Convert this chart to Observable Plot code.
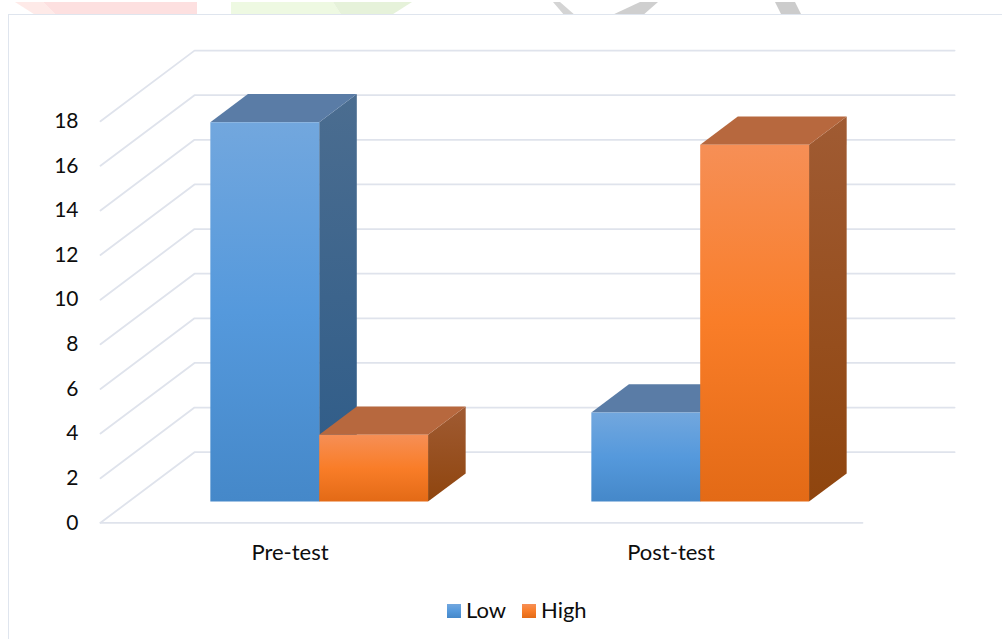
<!DOCTYPE html>
<html>
<head>
<meta charset="utf-8">
<script src="https://cdn.jsdelivr.net/npm/d3@7"></script>
<script src="https://cdn.jsdelivr.net/npm/@observablehq/plot@0.6"></script>
<style>
  html, body { margin: 0; padding: 0; background: #fff; overflow: hidden; }
  body { width: 1002px; height: 639px; position: relative; font-family: Lato, "Open Sans", sans-serif; color: #0d0d0d; }
  #strip { position: absolute; left: 0; top: 0; width: 1002px; height: 14px; overflow: hidden; }
  #frame { position: absolute; left: 7.5px; top: 13.5px; width: 1100px; height: 700px; border: 1.5px solid #dfe5ee; box-sizing: border-box; pointer-events: none; }
  #chart { position: absolute; left: 0; top: 0; }
  #legend { position: absolute; left: 0; top: 595px; width: 1002px; height: 32px; font-size: 22px; }
  #legend span { position: absolute; top: 2px; line-height: 26px; }
  #legend i { position: absolute; top: 9px; width: 14px; height: 14px; }
</style>
</head>
<body>
<div id="strip">
  <svg width="1002" height="14">
    <polygon points="15,0 43,0 57,14 37,14" fill="#feeae8"/>
    <polygon points="43,0 197,0 197,14 57,14" fill="#fde0e0"/>
    <polygon points="231,0 333,0 342,14 231,14" fill="#eef9e2"/>
    <polygon points="333,0 412,0 390,14 342,14" fill="#e6f2da"/>
    <polygon points="553,0 560,0 576,14 565,14" fill="#d4d4d4"/>
    <polygon points="640,0 658,0 642,14 610,14" fill="#cfcfcf"/>
    <polygon points="775,0 795,0 802,14 782,14" fill="#cccccc"/>
  </svg>
</div>
<div id="frame"></div>
<div id="chart"></div>
<div id="legend"></div>
<script>
// Counts of learners at each level, before and after the test period
const categories = ["Pre-test", "Post-test"];
const seriesNames = ["Low", "High"];
const lowValues = [17, 4];
const highValues = [3, 16];
const yTicks = [0, 2, 4, 6, 8, 10, 12, 14, 16, 18];

// Per-series face colours
const frontStops = {
  Low: ["#72a7de", "#5599dc", "#4588c9"],
  High: ["#f68f56", "#f97d28", "#e36a16"]
};
const sideStops = {
  Low: ["#4b6d90", "#2d5b88"],
  High: ["#a05b33", "#8f450e"]
};
const topFill = { Low: "#5a7ca6", High: "#b7683e" };

// Oblique projection: a point (u along the category axis, v up the value axis,
// d through the depth of the box) expressed in data units, so that the marks
// still go through the x and y scales.
const depthX = 94 / 381;
const depthY = 70.6 / 22.31;
const project = (u, v, d) => ({ x: u + d * depthX, y: v + d * depthY });

// Each category spans one x unit; bars fill it with a 150% gap
const barWidth = 1 / 3.5;
const barDepthStart = 0.3;
const barDepthEnd = 0.7;
const wallEnd = 1.995;

const bars = [];
categories.forEach((category, c) => {
  seriesNames.forEach((series, s) => {
    const value = (s === 0 ? lowValues : highValues)[c];
    const u0 = c + 0.5 - barWidth + s * barWidth;
    bars.push({ category, series, value, u0, u1: u0 + barWidth, key: `${c}-${s}` });
  });
});

const face = (name, corners, bar) =>
  corners.map(([u, v, d]) => ({ ...project(u, v, d), z: `${bar.key}-${name}` }));

const sidePoints = [], topPoints = [], frontPoints = [];
bars.forEach((b) => {
  const [d0, d1] = [barDepthStart, barDepthEnd];
  sidePoints.push(...face("side", [[b.u1, 0, d0], [b.u1, 0, d1], [b.u1, b.value, d1], [b.u1, b.value, d0]], b));
  topPoints.push(...face("top", [[b.u0, b.value, d0], [b.u1, b.value, d0], [b.u1, b.value, d1], [b.u0, b.value, d1]], b));
  frontPoints.push(...face("front", [[b.u0, 0, d0], [b.u1, 0, d0], [b.u1, b.value, d0], [b.u0, b.value, d0]], b));
});

// Floor edge and back-wall gridlines, one polyline per tick
const gridPoints = yTicks.flatMap((t) => [
  { ...project(0, t, 0), t },
  { ...project(0, t, 1), t },
  ...(t === 0 ? [{ ...project(2, t, 0), t: "floor" }, { ...project(0, t, 0), t: "floor" }] : []),
  { ...project(wallEnd, t, 1), t }
]);

// Painter's order per bar: side, top, then front, series by series
const barMarks = bars.flatMap((b) => {
  const byFace = (pts, name) => pts.filter((p) => p.z === `${b.key}-${name}`);
  return [
    Plot.line(byFace(sidePoints, "side"), { x: "x", y: "y", z: "z", curve: "linear-closed", fill: `url(#side${b.series})`, stroke: null }),
    Plot.line(byFace(topPoints, "top"), { x: "x", y: "y", z: "z", curve: "linear-closed", fill: topFill[b.series], stroke: null }),
    Plot.line(byFace(frontPoints, "front"), { x: "x", y: "y", z: "z", curve: "linear-closed", fill: `url(#front${b.series})`, stroke: null })
  ];
});

const chart = Plot.plot({
  width: 1002,
  height: 595,
  marginLeft: 100,
  marginRight: 140,
  marginTop: 120.7,
  marginBottom: 72.7,
  style: { background: "transparent", fontFamily: "Lato, 'Open Sans', sans-serif", color: "#0d0d0d" },
  x: { domain: [0, 2], axis: null },
  y: { domain: [0, 18], axis: null },
  marks: [
    Plot.line(gridPoints, { x: "x", y: "y", z: "t", stroke: "#dfe3ec", strokeWidth: 1.8 }),
    ...barMarks,
    Plot.axisY(yTicks, { anchor: "left", tickSize: 0, tickPadding: 22, fontSize: 21, fill: "#0d0d0d", label: null }),
    Plot.axisX(categories.map((_, i) => i + 0.5), { anchor: "bottom", tickSize: 0, tickPadding: 22, fontSize: 22, fill: "#0d0d0d", label: null, dx: -1, tickFormat: (d) => categories[d - 0.5] })
  ]
});

// Vertical gradients for the front and side faces
const defs = d3.select(chart).insert("defs", ":first-child");
const addGradient = (id, stops) => {
  const g = defs.append("linearGradient").attr("id", id).attr("x1", 0).attr("y1", 0).attr("x2", 0).attr("y2", 1);
  stops.forEach((color, i) => g.append("stop").attr("offset", i / (stops.length - 1)).attr("stop-color", color));
};
seriesNames.forEach((s) => {
  addGradient(`front${s}`, frontStops[s]);
  addGradient(`side${s}`, sideStops[s]);
});
document.getElementById("chart").append(chart);

// Legend below the plot
const legend = document.getElementById("legend");
const legendLayout = { Low: [447, 466], High: [522, 541] };
seriesNames.forEach((s) => {
  const swatch = document.createElement("i");
  swatch.style.left = legendLayout[s][0] + "px";
  swatch.style.background = `linear-gradient(${frontStops[s].join(",")})`;
  const label = document.createElement("span");
  label.style.left = legendLayout[s][1] + "px";
  label.textContent = s;
  legend.append(swatch, label);
});
</script>
</body>
</html>
